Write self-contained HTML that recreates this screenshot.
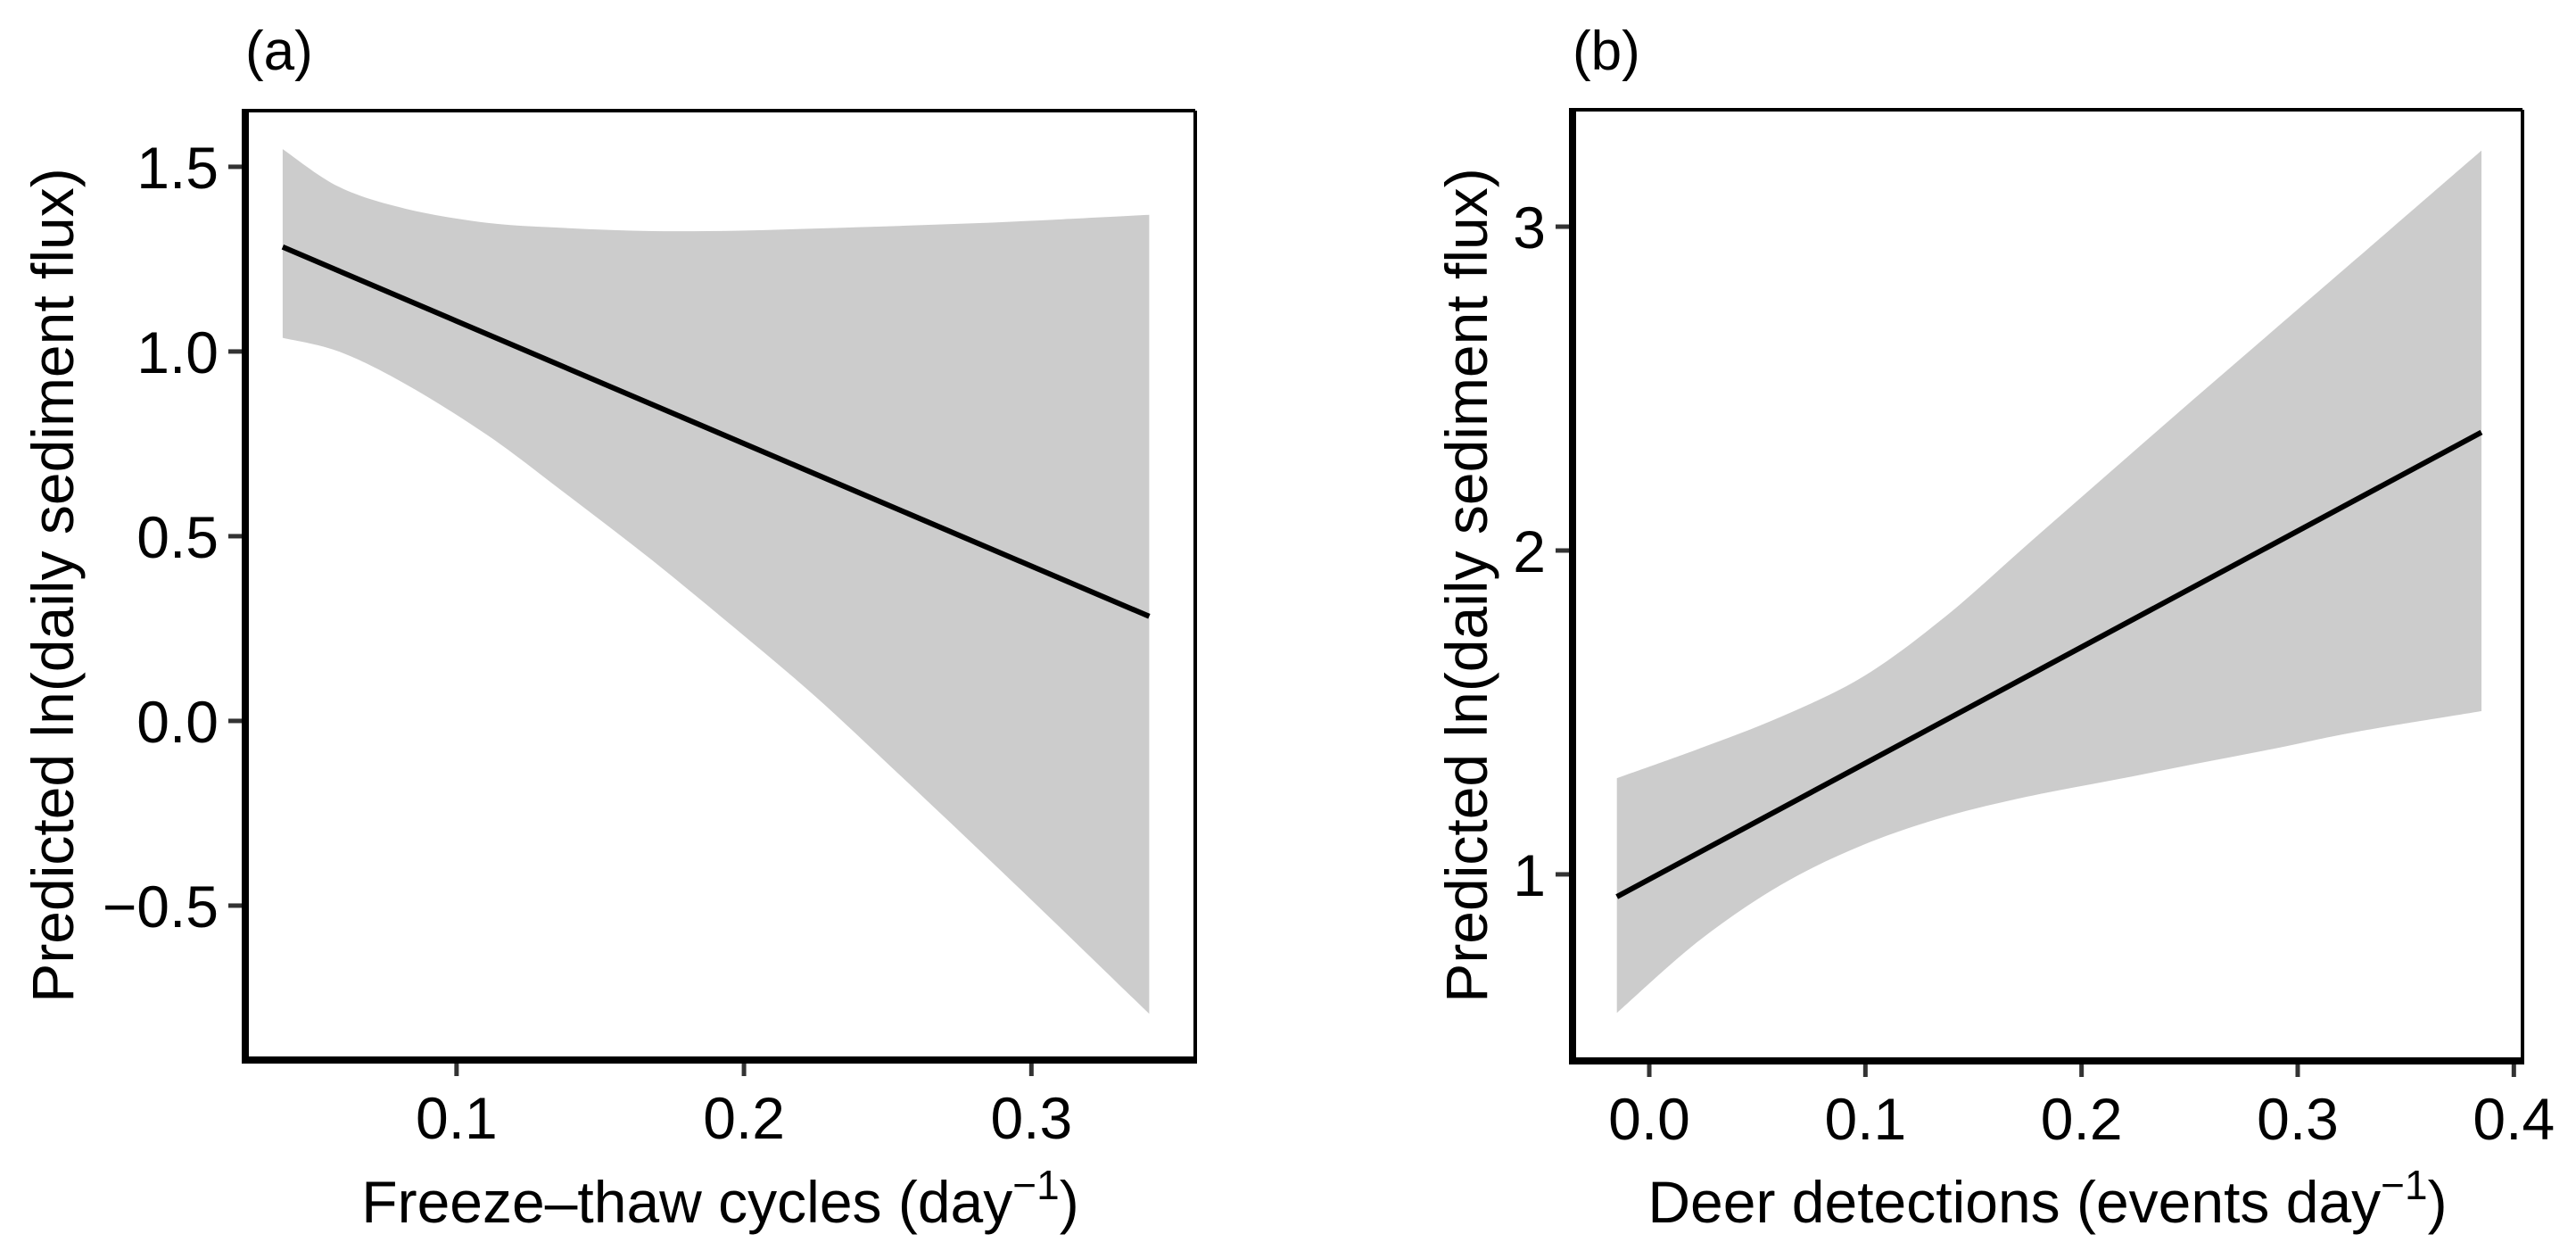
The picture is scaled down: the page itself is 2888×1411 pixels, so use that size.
<!DOCTYPE html>
<html><head><meta charset="utf-8"><style>
html,body{margin:0;padding:0;background:#fff;}
svg{display:block;font-family:"Liberation Sans",Arial,sans-serif;}
</style></head><body>
<svg id="fig" width="2888" height="1411" viewBox="0 0 2888 1411" xmlns="http://www.w3.org/2000/svg"></svg>
<script>
// Panel (a) data
const aX = [0.0395, 0.059, 0.082, 0.111, 0.139, 0.168, 0.197, 0.225, 0.254, 0.283, 0.311, 0.341];
const aUpper = [1.548, 1.446, 1.387, 1.348, 1.334, 1.326, 1.327, 1.333, 1.340, 1.348, 1.358, 1.37];
const aLower = [1.037, 1.0, 0.913, 0.772, 0.609, 0.435, 0.25, 0.065, -0.145, -0.358, -0.567, -0.793];
const aLineX = [0.0395, 0.341];
const aLineY = [1.283, 0.283];
const aXTicks = [0.1, 0.2, 0.3];
const aXTickLabels = ["0.1", "0.2", "0.3"];
const aYTicks = [1.5, 1.0, 0.5, 0.0, -0.5];
const aYTickLabels = ["1.5", "1.0", "0.5", "0.0", "\u22120.5"];
// Panel (b) data
const bX = [-0.015, 0.023, 0.061, 0.099, 0.137, 0.175, 0.213, 0.251, 0.289, 0.327, 0.385];
const bUpper = [1.297, 1.388, 1.487, 1.611, 1.796, 2.019, 2.241, 2.462, 2.681, 2.900, 3.235];
const bLower = [0.572, 0.795, 0.968, 1.091, 1.178, 1.240, 1.289, 1.339, 1.388, 1.440, 1.504];
const bLineX = [-0.015, 0.385];
const bLineY = [0.931, 2.365];
const bXTicks = [0.0, 0.1, 0.2, 0.3, 0.4];
const bXTickLabels = ["0.0", "0.1", "0.2", "0.3", "0.4"];
const bYTicks = [3, 2, 1];
const bYTickLabels = ["3", "2", "1"];

const NS = "http://www.w3.org/2000/svg";
const svg = document.getElementById('fig');
function mk(tag, attrs, parent) {
  const e = document.createElementNS(NS, tag);
  for (const k in attrs) e.setAttribute(k, attrs[k]);
  (parent || svg).appendChild(e);
  return e;
}
function smooth(pts, first) {
  let d = (first ? 'M' : 'L') + pts[0][0].toFixed(1) + ',' + pts[0][1].toFixed(1);
  for (let i = 0; i < pts.length - 1; i++) {
    const p0 = pts[Math.max(i - 1, 0)], p1 = pts[i], p2 = pts[i + 1], p3 = pts[Math.min(i + 2, pts.length - 1)];
    const c1x = p1[0] + (p2[0] - p0[0]) / 6, c1y = p1[1] + (p2[1] - p0[1]) / 6;
    const c2x = p2[0] - (p3[0] - p1[0]) / 6, c2y = p2[1] - (p3[1] - p1[1]) / 6;
    d += 'C' + c1x.toFixed(1) + ',' + c1y.toFixed(1) + ' ' + c2x.toFixed(1) + ',' + c2y.toFixed(1) + ' ' + p2[0].toFixed(1) + ',' + p2[1].toFixed(1);
  }
  return d;
}
function panel(p) {
  const g = mk('g', {});
  
  
  const sx = v => p.L + (v - p.xmin) / (p.xmax - p.xmin) * (p.R - p.L);
  const sy = v => p.B - (v - p.ymin) / (p.ymax - p.ymin) * (p.B - p.T);
  const upPts = p.bx.map((x, i) => [sx(x), sy(p.up[i])]);
  const loPts = p.bx.map((x, i) => [sx(x), sy(p.lo[i])]).reverse();
  const d = smooth(upPts, true) + smooth(loPts, false) + 'Z';
  const band = mk('path', {d: d, fill: '#cccccc', stroke: 'none'}, g);
  
  
  const ln = mk('line', {x1: sx(p.lx[0]), y1: sy(p.ly[0]), x2: sx(p.lx[1]), y2: sy(p.ly[1]), stroke: '#000', 'stroke-width': 6}, g);
  
  
  mk('line', {x1: p.L, y1: p.T, x2: p.R, y2: p.T, stroke: '#000', 'stroke-width': 4}, g);
  mk('line', {x1: p.R, y1: p.T, x2: p.R, y2: p.B, stroke: '#000', 'stroke-width': 4}, g);
  const ya = mk('line', {x1: p.L, y1: p.T - 2, x2: p.L, y2: p.B + 4, stroke: '#000', 'stroke-width': 8}, g);
  
  
  const xa = mk('line', {x1: p.L - 4, y1: p.B, x2: p.R + 2, y2: p.B, stroke: '#000', 'stroke-width': 8}, g);
  
  
  p.xt.forEach((v, i) => {
    mk('line', {x1: sx(v), y1: p.B + 4, x2: sx(v), y2: p.B + 18, stroke: '#333', 'stroke-width': 5}, g);
    const t = mk('text', {x: sx(v), y: p.B + 88, 'text-anchor': 'middle', 'font-size': 66, fill: '#000'}, g);
    t.textContent = p.xtl[i];
    
    
  });
  p.yt.forEach((v, i) => {
    mk('line', {x1: p.L - 19, y1: sy(v), x2: p.L - 4, y2: sy(v), stroke: '#333', 'stroke-width': 5}, g);
    const t = mk('text', {x: p.L - 30, y: sy(v) + 24, 'text-anchor': 'end', 'font-size': 66, fill: '#000'}, g);
    t.textContent = p.ytl[i];
    
    
  });
  const xt = mk('text', {x: (p.L + p.R) / 2, y: 1370, 'text-anchor': 'middle', 'font-size': 66, fill: '#000'}, g);
  
  
  xt.appendChild(document.createTextNode(p.xtitle));
  const sup = mk('tspan', {dy: -26, 'font-size': 46}, xt);
  sup.textContent = '\u22121';
  const cl = mk('tspan', {dy: 26}, xt);
  cl.textContent = ')';
  const yt = mk('text', {x: 0, y: 0, 'text-anchor': 'middle', 'font-size': 66, fill: '#000', transform: 'translate(' + p.ytx + ',' + ((p.T + p.B) / 2) + ') rotate(-90)'}, g);
  yt.textContent = 'Predicted ln(daily sediment flux)';
  
  
  const pl = mk('text', {x: p.L, y: 78, 'font-size': 62, fill: '#000'}, g);
  pl.textContent = p.label;
  
  
}
panel({name: 'panel-a', L: 275, R: 1340, T: 124, B: 1188, xmin: 0.0265, xmax: 0.357, ymin: -0.918, ymax: 1.652,
  bx: aX, up: aUpper, lo: aLower, lx: aLineX, ly: aLineY, xt: aXTicks, xtl: aXTickLabels, yt: aYTicks, ytl: aYTickLabels,
  xtitle: 'Freeze\u2013thaw cycles (day', ytx: 82, label: '(a)'});
panel({name: 'panel-b', L: 1763, R: 2828, T: 123, B: 1189, xmin: -0.0355, xmax: 0.404, ymin: 0.424, ymax: 3.361,
  bx: bX, up: bUpper, lo: bLower, lx: bLineX, ly: bLineY, xt: bXTicks, xtl: bXTickLabels, yt: bYTicks, ytl: bYTickLabels,
  xtitle: 'Deer detections (events day', ytx: 1667, label: '(b)'});
</script>
</body></html>
